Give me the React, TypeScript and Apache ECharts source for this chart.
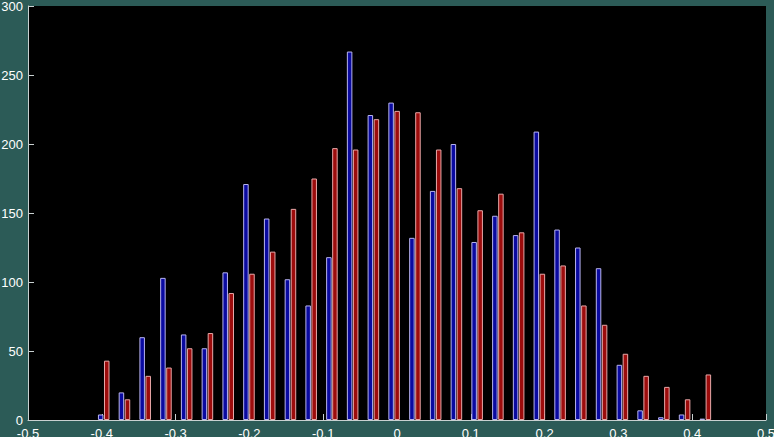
import React, { useEffect, useRef } from "react";
import * as echarts from "echarts";

const binCenters = [
  -0.3974, -0.3693, -0.3412, -0.3131, -0.285, -0.2569, -0.2287, -0.2006, -0.1725, -0.1444,
  -0.1163, -0.0882, -0.0601, -0.032, -0.0039, 0.0243, 0.0524, 0.0805, 0.1086, 0.1367,
  0.1648, 0.1929, 0.221, 0.2491, 0.2772, 0.3054, 0.3335, 0.3616, 0.3897, 0.4178,
];
const blueCounts = [
  4, 20, 60, 103, 62, 52, 107, 171, 146, 102,
  83, 118, 267, 221, 230, 132, 166, 200, 129, 148,
  134, 209, 138, 125, 110, 40, 7, 2, 4, 1,
];
const redCounts = [
  43, 15, 32, 38, 52, 63, 92, 106, 122, 153,
  175, 197, 196, 218, 224, 223, 196, 168, 152, 164,
  136, 106, 112, 83, 69, 48, 32, 24, 15, 33,
];
const xTicks = { min: -0.5, max: 0.5, interval: 0.1 };
const yTicks = { min: 0, max: 300, interval: 50 };

export default function App() {
  const ref = useRef<HTMLDivElement>(null);
  useEffect(() => {
    document.body.style.margin = "0";
    const chart = echarts.init(ref.current!, null, { renderer: "svg" });
    const axisColor = "#c8d0d0";
    chart.setOption({
      animation: false,
      backgroundColor: "#2c5b57",
      grid: {
        left: 28,
        right: 8,
        top: 6,
        bottom: 17,
        show: true,
        backgroundColor: "#000000",
        borderWidth: 0,
        containLabel: false,
        outerBoundsMode: "none",
      },
      xAxis: {
        type: "value",
        min: xTicks.min,
        max: xTicks.max,
        interval: xTicks.interval,
        axisLine: { show: true, onZero: false, lineStyle: { color: axisColor, width: 1 } },
        axisTick: { show: true, inside: true, length: 6, lineStyle: { color: axisColor } },
        splitLine: { show: false },
        axisLabel: {
          color: "#ffffff",
          fontSize: 13,
          fontFamily: "Liberation Sans, Arial, sans-serif",
          margin: 7,
          showMinLabel: true,
          showMaxLabel: true,
          hideOverlap: false,
          formatter: (v: number) => String(Math.round(v * 10) / 10),
        },
      },
      yAxis: {
        type: "value",
        min: yTicks.min,
        max: yTicks.max,
        interval: yTicks.interval,
        axisLine: { show: true, onZero: false, lineStyle: { color: axisColor, width: 1 } },
        axisTick: { show: true, inside: true, length: 6, lineStyle: { color: axisColor } },
        splitLine: { show: false },
        axisLabel: {
          color: "#ffffff",
          fontSize: 13,
          fontFamily: "Liberation Sans, Arial, sans-serif",
          margin: 5,
          showMinLabel: true,
          showMaxLabel: true,
        },
      },
      series: [
        {
          type: "bar",
          data: binCenters.map((x, i) => [x, blueCounts[i]]),
          barWidth: 5.5,
          barGap: "10%",
          itemStyle: { color: "#0a0aa0", borderColor: "#b8b4ee", borderWidth: 1 },
        },
        {
          type: "bar",
          data: binCenters.map((x, i) => [x, redCounts[i]]),
          barWidth: 5.5,
          barGap: "10%",
          itemStyle: { color: "#9c0c0c", borderColor: "#e8a8a8", borderWidth: 1 },
        },
      ],
    });
    return () => chart.dispose();
  }, []);
  return (
    <div
      ref={ref}
      style={{ position: "fixed", left: 0, top: 0, width: 774, height: 437, background: "#2c5b57" }}
    />
  );
}
